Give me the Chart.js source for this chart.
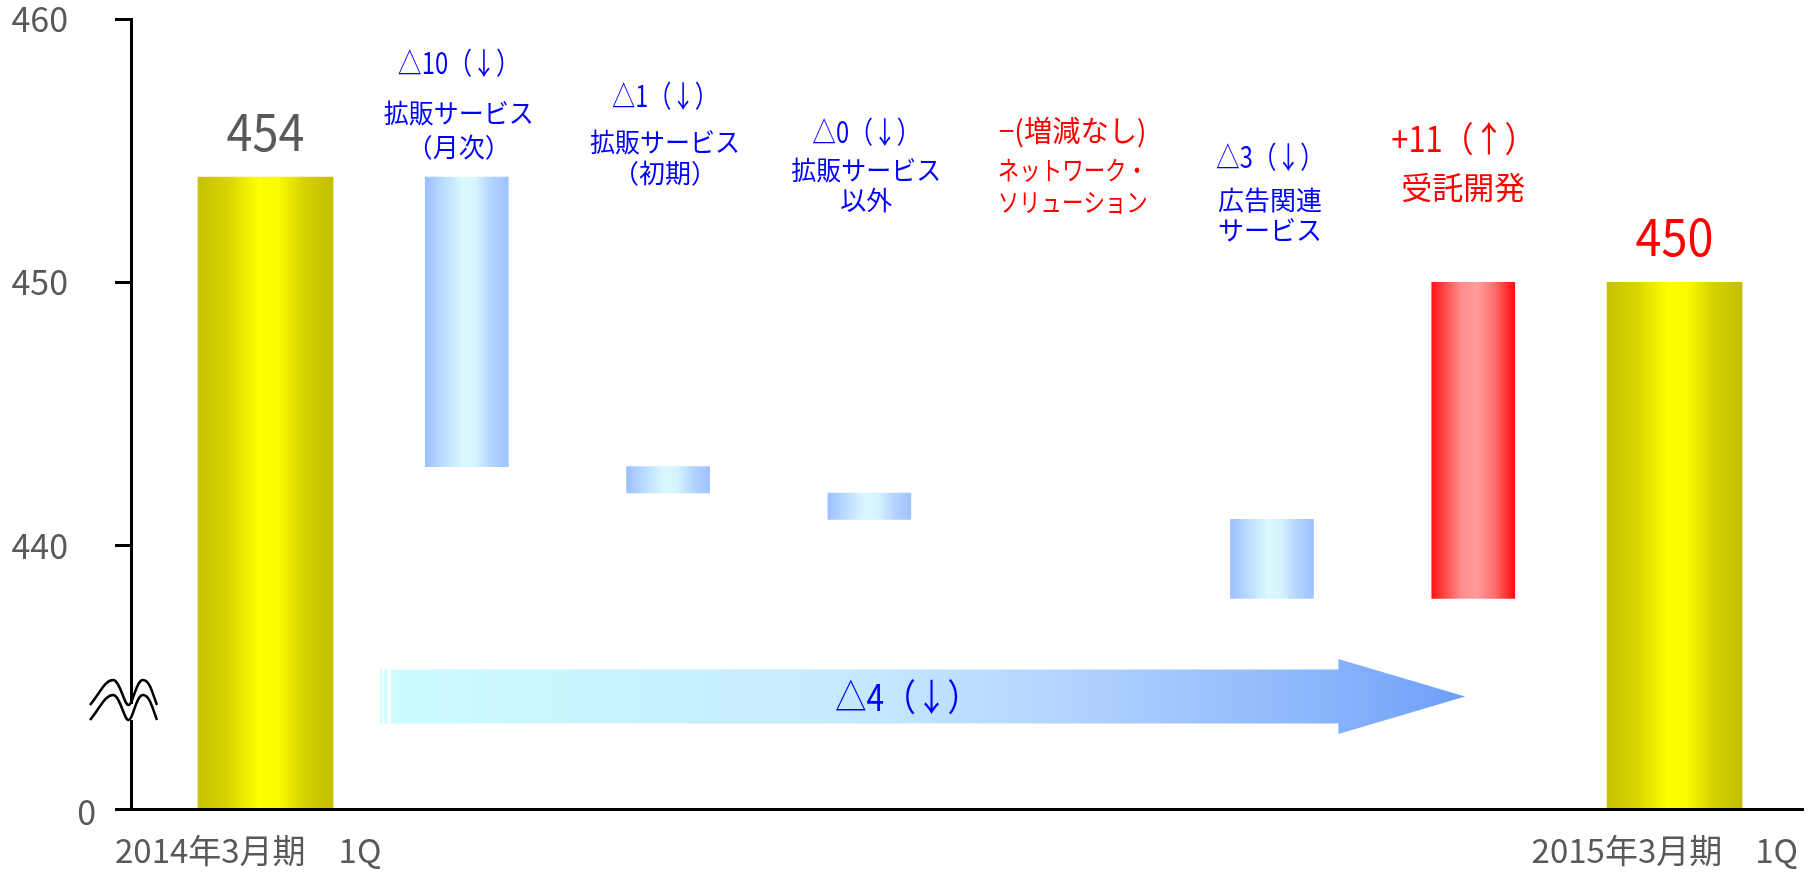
<!DOCTYPE html>
<html lang="ja">
<head>
<meta charset="utf-8">
<title>売上高増減要因</title>
<script src="https://cdn.jsdelivr.net/npm/chart.js@4.4.1/dist/chart.umd.min.js"></script>
<style>
  html, body { margin: 0; padding: 0; background: #fff; }
  #wrap { width: 1811px; height: 873px; }
</style>
</head>
<body>
<div id="wrap"><canvas id="waterfall"></canvas></div>
<script>
// DATA
const categories = ['2014年3月期　1Q', '拡販サービス（月次）', '拡販サービス（初期）', '拡販サービス以外',
    'ネットワーク・ソリューション', '広告関連サービス', '受託開発', '2015年3月期　1Q'];
const totalValues = [454, null, null, null, null, null, null, 450];
const changeLow = [null, 443, 442, 441, null, 438, 438, null];
const changeHigh = [null, 454, 443, 442, null, 441, 450, null];
const changeKind = [null, 'down', 'down', 'down', 'none', 'down', 'up', null];
const changeLabels = [null, '△10（↓）', '△1（↓）', '△0（↓）', '−(増減なし)', '△3（↓）', '+11（↑）', null];
const nameLines = [null, ['拡販サービス', '（月次）'], ['拡販サービス', '（初期）'], ['拡販サービス', '以外'],
    ['ネットワーク・', 'ソリューション'], ['広告関連', 'サービス'], ['受託開発'], null];
const overallChange = '△4（↓）';
const yTicks = [430, 440, 450, 460];
const yTickLabels = ['0', '440', '450', '460'];
const axisBase = 430;

// LOOK
const BLUE = '#0000FF';
const RED = '#FF0000';
const GREY = '#595959';
const yellowStops = [[0, '#C8C200'], [0.22, '#D8D400'], [0.45, '#FFFF00'], [0.6, '#FAFA00'], [0.78, '#D6D200'], [1, '#C4BE00']];
const blueStops = [[0, '#9CC0FF'], [0.2, '#B8DAFF'], [0.45, '#DAF8FF'], [0.6, '#D6F4FF'], [0.8, '#B4D4FF'], [1, '#9EC2FF']];
const redStops = [[0, '#FF1414'], [0.12, '#FF3C3C'], [0.35, '#FF8C8C'], [0.55, '#FF9C9C'], [0.75, '#FF7070'], [1, '#FF0A0A']];
const arrowStops = [[0, '#CCFCFF'], [0.45, '#C4E9FF'], [0.62, '#B4D5FF'], [0.85, '#8EB7FC'], [1, '#6E9EF8']];
const totalWidth = 135;
const changeWidth = 83;

// per-bar text placement (pixels)
const labelLayout = [
    null,
    { dx: -8, deltaY: 63, deltaSize: 30, deltaW: 122, nameY: [113, 147], nameSize: 26 },
    { dx: -3, deltaY: 96, deltaSize: 30, deltaW: 106, nameY: [142, 173], nameSize: 26 },
    { dx: -3, deltaY: 132, deltaSize: 30, deltaW: 108, nameY: [170, 200], nameSize: 26 },
    { dx: 2, deltaY: 131, deltaSize: 29, deltaW: 148, nameY: [170, 202], nameSize: 26 },
    { dx: -2, deltaY: 157, deltaSize: 30, deltaW: 108, nameY: [200, 230], nameSize: 26 },
    { dx: -10, deltaY: 139, deltaSize: 35, deltaW: 144, nameY: [187], nameSize: 31 },
    null
];
const totalLabelColor = [GREY, null, null, null, null, null, null, RED];
const arrowSpan = { from: 1.57, to: 6.96, head: 6.33, y: 434.27 };

const FONT = "'Noto Sans CJK JP', 'Noto Sans', sans-serif";
Chart.defaults.font.family = FONT;

function barGradient(ctx, left, right, stops) {
    const g = ctx.createLinearGradient(left, 0, right, 0);
    stops.forEach(([p, c]) => g.addColorStop(p, c));
    return g;
}

function fillFor(width, pick) {
    return (c) => {
        const chart = c.chart;
        if (!chart.chartArea || !c.raw) return '#cccccc';
        const cx = chart.scales.x.getPixelForValue(c.raw.x);
        return barGradient(chart.ctx, cx - width / 2, cx + width / 2, pick(c.raw));
    };
}

// build points from the arrays
const totalPoints = [];
const changePoints = [];
categories.forEach((name, i) => {
    if (totalValues[i] != null) totalPoints.push({ x: i + 1, y: [axisBase, totalValues[i]] });
    if (changeLow[i] != null) changePoints.push({ x: i + 1, y: [changeLow[i], changeHigh[i]], kind: changeKind[i] });
});

function text(ctx, str, x, y, size, color, align, maxW) {
    ctx.font = `${size}px ${FONT}`;
    ctx.fillStyle = color;
    ctx.textAlign = align || 'center';
    ctx.textBaseline = 'middle';
    if (maxW) ctx.fillText(str, x, y, maxW);
    else ctx.fillText(str, x, y);
}

const annotations = {
    id: 'annotations',
    afterDatasetsDraw(chart) {
        const { ctx, scales: { x, y } } = chart;
        ctx.save();

        // big overall arrow
        const ax0 = x.getPixelForValue(arrowSpan.from);
        const ax1 = x.getPixelForValue(arrowSpan.to);
        const axh = x.getPixelForValue(arrowSpan.head);
        const ay = y.getPixelForValue(arrowSpan.y);
        ctx.fillStyle = barGradient(ctx, ax0, ax1, arrowStops);
        ctx.fillRect(ax0, ay - 27, 2, 54);
        ctx.fillRect(ax0 + 4, ay - 27, 3, 54);
        ctx.beginPath();
        ctx.moveTo(ax0 + 11, ay - 27);
        ctx.lineTo(axh, ay - 27);
        ctx.lineTo(axh, ay - 37.5);
        ctx.lineTo(ax1, ay);
        ctx.lineTo(axh, ay + 37.5);
        ctx.lineTo(axh, ay + 27);
        ctx.lineTo(ax0 + 11, ay + 27);
        ctx.closePath();
        ctx.fill();
        text(ctx, overallChange, 907, ay, 37, BLUE, 'center', 144);

        // labels over the bars
        categories.forEach((name, i) => {
            const cx = x.getPixelForValue(i + 1);
            if (totalValues[i] != null) {
                const top = y.getPixelForValue(totalValues[i]);
                text(ctx, String(totalValues[i]), cx, top - 45, 50, totalLabelColor[i], 'center', 78);
            }
            const lay = labelLayout[i];
            if (!lay) return;
            const color = changeKind[i] === 'down' ? BLUE : RED;
            text(ctx, changeLabels[i], cx + lay.dx, lay.deltaY, lay.deltaSize, color, 'center', lay.deltaW);
            nameLines[i].forEach((line, k) => {
                text(ctx, line, cx + lay.dx, lay.nameY[k], lay.nameSize, color, 'center', 150);
            });
        });

        // category labels under the axis
        text(ctx, categories[0], 115, 850, 33, GREY, 'left');
        text(ctx, categories[categories.length - 1], 1798, 850, 33, GREY, 'right');
        // the "0" of the broken axis
        text(ctx, yTickLabels[0], 96, y.getPixelForValue(axisBase) + 3, 34, GREY, 'right');
        ctx.restore();
    },
    afterDraw(chart) {
        // axis break mark
        const { ctx } = chart;
        const ax = chart.chartArea.left;
        ctx.save();
        ctx.fillStyle = '#fff';
        ctx.fillRect(ax - 3, 704, 6, 16);
        ctx.strokeStyle = '#000';
        ctx.lineWidth = 2.5;
        [705, 720].forEach((b) => {
            const t = b - 25;
            ctx.beginPath();
            ctx.moveTo(90, b);
            ctx.bezierCurveTo(100, b - 12, 105, t, 113, t);
            ctx.bezierCurveTo(120, t, 124, b, 128.5, b);
            ctx.bezierCurveTo(133, b, 136, t, 143, t);
            ctx.bezierCurveTo(150, t, 153, b - 10, 157, b);
            ctx.stroke();
        });
        ctx.restore();
    }
};

const ctx = document.getElementById('waterfall').getContext('2d');
const waterfall = new Chart(ctx, {
    type: 'bar',
    data: {
        datasets: [{
            label: 'totals',
            data: totalPoints,
            barThickness: totalWidth,
            grouped: false,
            borderWidth: 0,
            borderSkipped: false,
            backgroundColor: fillFor(totalWidth, () => yellowStops)
        }, {
            label: 'changes',
            data: changePoints,
            barThickness: changeWidth,
            grouped: false,
            borderWidth: 0,
            borderSkipped: false,
            backgroundColor: fillFor(changeWidth, (raw) => raw.kind === 'up' ? redStops : blueStops)
        }]
    },
    options: {
        responsive: true,
        maintainAspectRatio: false,
        animation: false,
        layout: { padding: { top: 19, right: 8, left: 0, bottom: 0 } },
        plugins: { legend: { display: false }, tooltip: { enabled: false } },
        scales: {
            x: {
                type: 'linear',
                offset: false,
                min: 0.332,
                max: 8.638,
                grid: { display: false, drawTicks: false },
                border: { display: true, color: '#000', width: 3, z: 1 },
                ticks: { display: false },
                afterFit: (s) => { s.height = 64; s.paddingLeft = 0; s.paddingRight = 0; }
            },
            y: {
                min: axisBase,
                max: 460,
                afterBuildTicks: (s) => { s.ticks = yTicks.map(v => ({ value: v })); },
                grid: { drawOnChartArea: false, drawTicks: true, tickLength: 16, tickWidth: 3, tickColor: '#000' },
                border: { display: true, color: '#000', width: 3, z: 1 },
                ticks: {
                    padding: 47,
                    color: GREY,
                    font: { size: 34 },
                    callback: (v) => v === axisBase ? '' : yTickLabels[yTicks.indexOf(v)]
                },
                afterFit: (s) => { s.width = 131; s.paddingTop = 0; s.paddingBottom = 0; }
            }
        }
    },
    plugins: [annotations]
});
</script>
</body>
</html>
